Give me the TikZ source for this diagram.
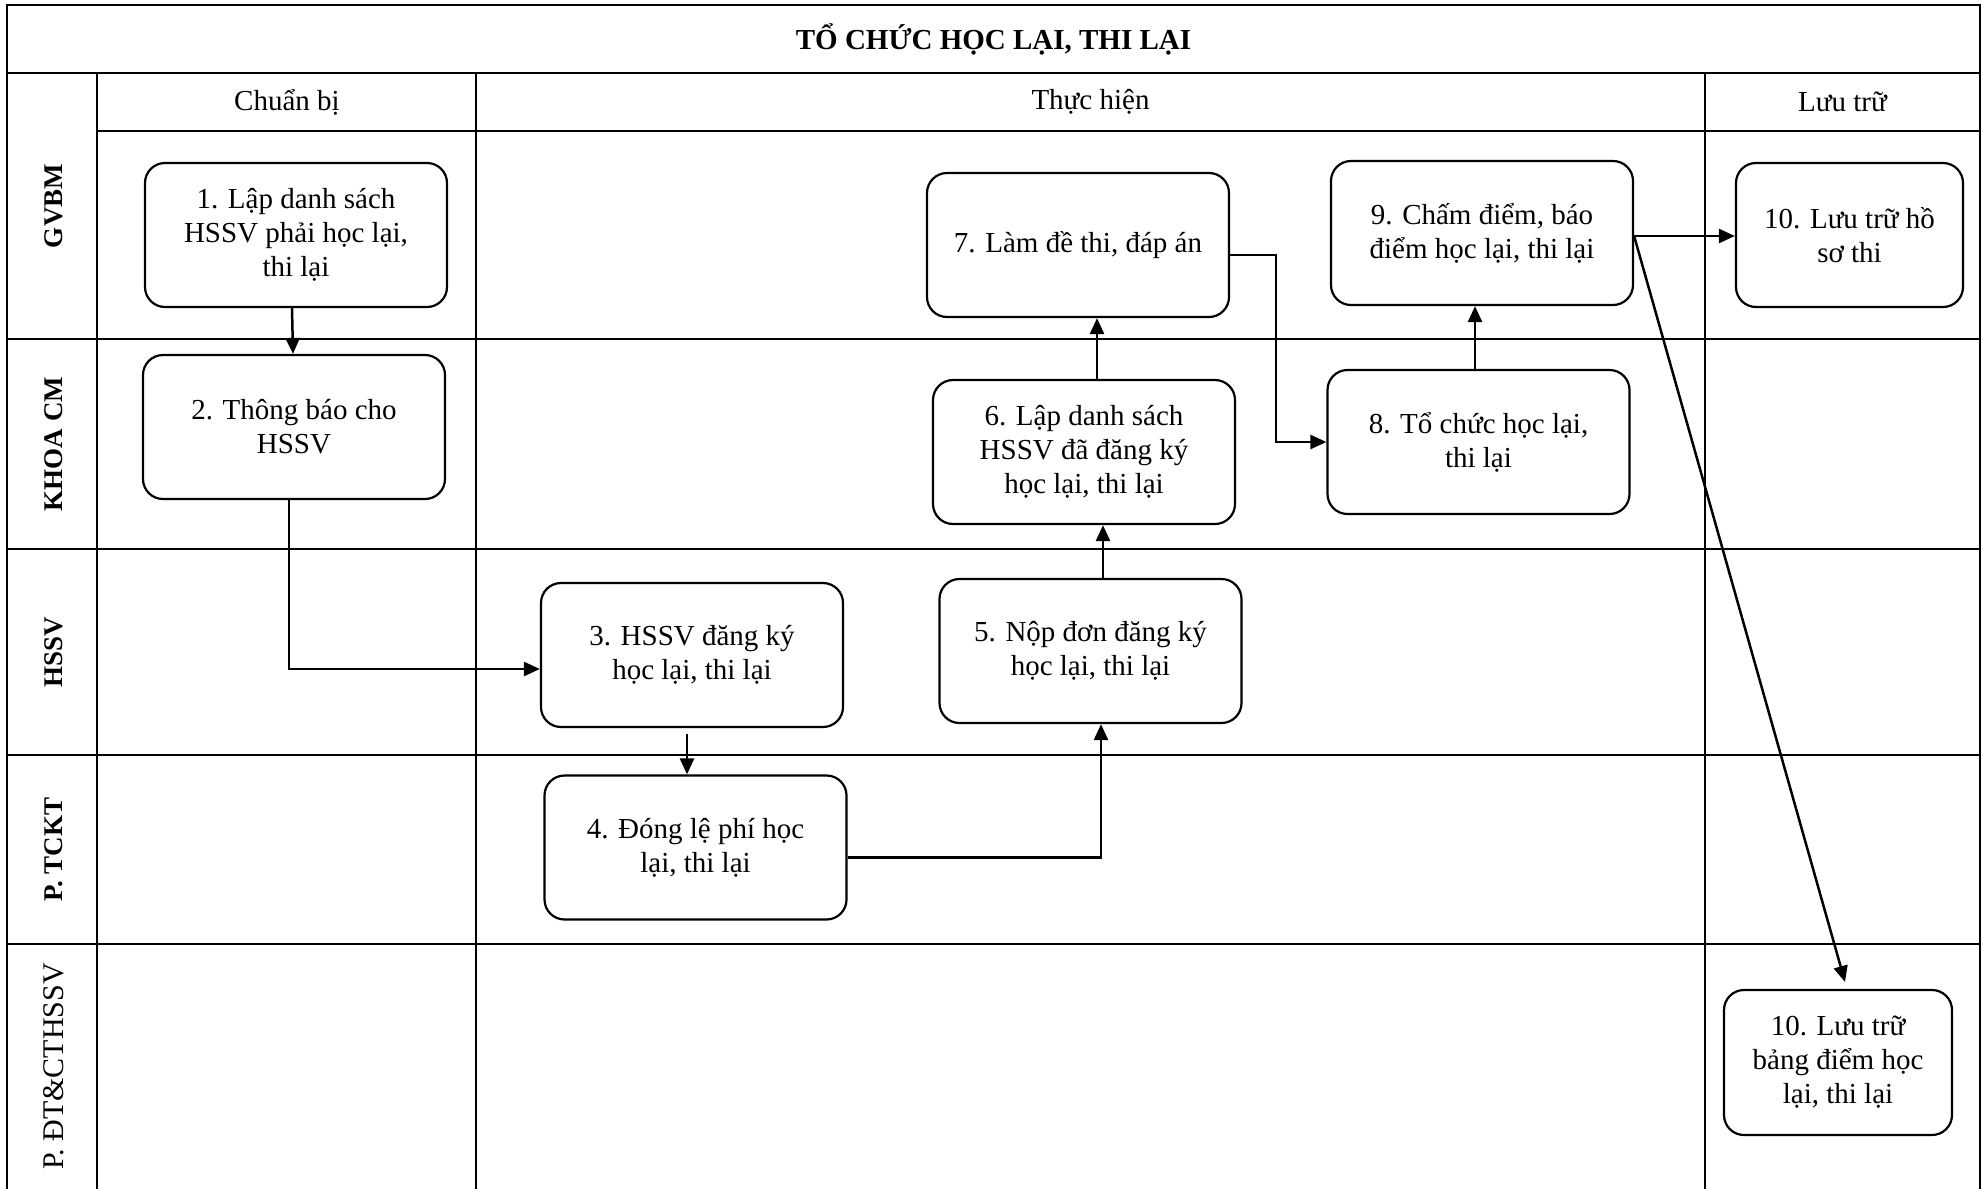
\documentclass[tikz,border=0pt]{standalone}
\usepackage{fontspec}
\setmainfont{Liberation Serif}
\usetikzlibrary{arrows.meta}
\begin{document}
\begin{tikzpicture}[x=1pt,y=-1pt,
  grid/.style={line width=2.5pt},
  box/.style={draw, line width=2.2pt, rounded corners=20pt, minimum width=302pt,
    minimum height=144pt, align=center, inner sep=0pt,
    font=\fontsize{29}{34}\selectfont},
  arr/.style={line width=2.5pt, -{Triangle[length=16pt,width=14pt]}},
  lane/.style={rotate=90, font=\fontsize{27}{32}\selectfont\bfseries},
  head/.style={font=\fontsize{29}{34}\selectfont}]
\useasboundingbox (0,0) rectangle (1982,1189);
% grid
\draw[grid] (7,1192) -- (7,5) -- (1980,5) -- (1980,1192);
\draw[grid] (7,73) -- (1980,73);
\draw[grid] (97,131) -- (1980,131);
\draw[grid] (97,73) -- (97,1192);
\draw[grid] (476,73) -- (476,1192);
\draw[grid] (1705,73) -- (1705,1192);
\foreach \yy in {339,549,755,944} \draw[grid] (7,\yy) -- (1980,\yy);
% title and headers
\node[font=\fontsize{29}{34}\selectfont\bfseries] (title) at (993.5,39) {TỔ CHỨC HỌC LẠI, THI LẠI};
\node[head] (h1) at (287,102) {Chuẩn bị};
\node[head] (h2) at (1090.5,102) {Thực hiện};
\node[head] (h3) at (1842.5,102) {Lưu trữ};
% lane labels
\node[lane] (l1) at (54,206) {GVBM};
\node[lane] (l2) at (54,444) {KHOA CM};
\node[lane] (l3) at (54,652) {HSSV};
\node[lane] (l4) at (54,849.5) {P. TCKT};
\node[lane, font=\fontsize{30}{34}\selectfont] (l5) at (54,1066.5) {P. ĐT\&CTHSSV};
% boxes
\node[box] (b1) at (296,235) {1. Lập danh sách\\HSSV phải học lại,\\thi lại};
\node[box] (b2) at (294,427) {2. Thông báo cho\\HSSV};
\node[box] (b3) at (692,655) {3. HSSV đăng ký\\học lại, thi lại};
\node[box] (b4) at (695.5,847.5) {4. Đóng lệ phí học\\lại, thi lại};
\node[box] (b5) at (1090.5,651) {5. Nộp đơn đăng ký\\học lại, thi lại};
\node[box] (b6) at (1084,452) {6. Lập danh sách\\HSSV đã đăng ký\\học lại, thi lại};
\node[box] (b7) at (1078,245) {7. Làm đề thi, đáp án};
\node[box] (b8) at (1478.5,442) {8. Tổ chức học lại,\\thi lại};
\node[box] (b9) at (1482,233) {9. Chấm điểm, báo\\điểm học lại, thi lại};
\node[box, minimum width=227pt] (b10a) at (1849.5,235) {10. Lưu trữ hồ\\sơ thi};
\node[box, minimum width=228pt, minimum height=145pt] (b10b) at (1838,1062.5) {10. Lưu trữ\\bảng điểm học\\lại, thi lại};
% connectors
\draw[arr] ([xshift=-4pt]b1.south) -- ([xshift=-1pt]b2.north);
\draw[arr] ([xshift=-5pt]b2.south) |- ([yshift=-14pt]b3.west);
\draw[arr] ([xshift=-5pt,yshift=-6pt]b3.south) -- ([xshift=-8.5pt]b4.north);
\draw[arr] ([yshift=-10pt]b4.east) -| ([xshift=10.5pt]b5.south);
\draw[arr] ([xshift=12.5pt]b5.north) -- ([xshift=12.5pt]b5.north |- b6.south);
\draw[arr] ([xshift=13pt]b6.north) -- ([xshift=13pt]b6.north |- b7.south);
\draw[arr] ([yshift=-10pt]b7.east) -- ++(46,0) |- (b8.west);
\draw[arr] ([xshift=-3.5pt]b8.north) -- ([xshift=-3.5pt]b8.north |- b9.south);
\draw[arr] ([yshift=-3pt]b9.east) -- ([yshift=-3pt]b9.east -| b10a.west);
\draw[arr] ([yshift=-3pt]b9.east) -- ([xshift=7pt,yshift=7pt]b10b.north);
\end{tikzpicture}
\end{document}
